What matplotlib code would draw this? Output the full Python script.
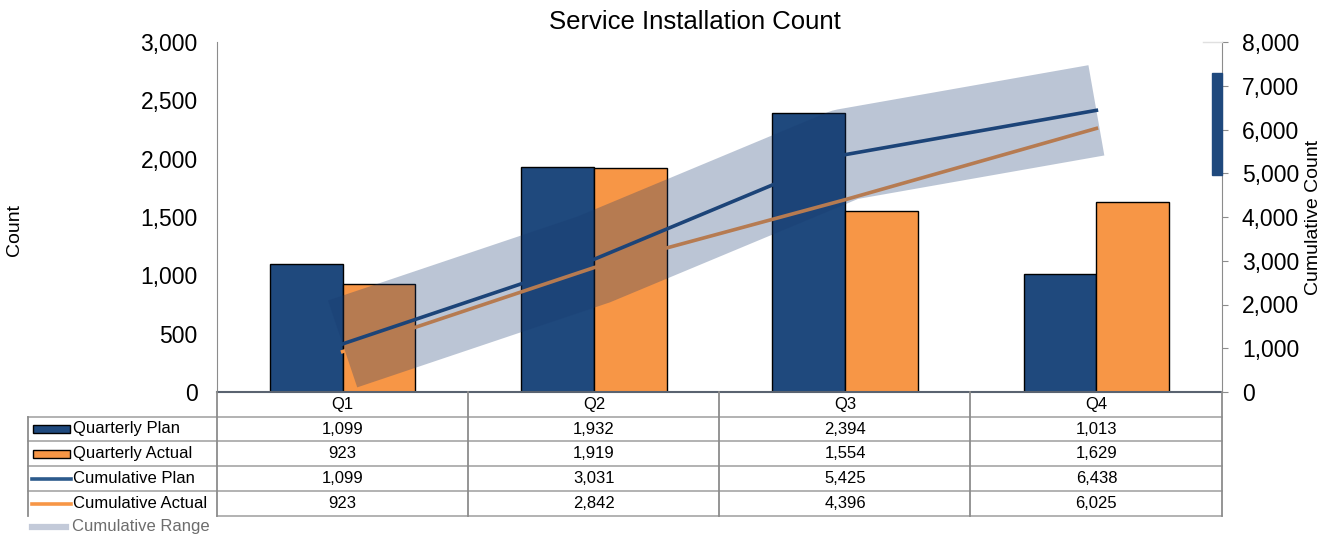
import numpy as np
import matplotlib
matplotlib.use("Agg")
import matplotlib.pyplot as plt
from matplotlib.patches import Rectangle
from matplotlib.lines import Line2D
from matplotlib.transforms import blended_transform_factory
from matplotlib.ticker import FuncFormatter

plt.rcParams['font.family'] = ['Liberation Sans', 'DejaVu Sans']

# data
quarters = ['Q1', 'Q2', 'Q3', 'Q4']
quarterly_plan = [1099, 1932, 2394, 1013]
quarterly_actual = [923, 1919, 1554, 1629]
cumulative_plan = [1099, 3031, 5425, 6438]
cumulative_actual = [923, 2842, 4396, 6025]
row_labels = ['Quarterly Plan', 'Quarterly Actual', 'Cumulative Plan', 'Cumulative Actual']

navy = '#1F497D'
orange = '#F79646'

W, H = 1333, 537
fig = plt.figure(figsize=(W / 100, H / 100), dpi=100)
ax = fig.add_axes([217 / W, 1 - 392 / H, (1222 - 217) / W, 350 / H])
ax2 = ax.twinx()

x = np.arange(len(quarters)) + 0.5
bw = 0.29
ax.bar(x - bw / 2, quarterly_plan, bw, color=navy, edgecolor='black', linewidth=1, zorder=2)
ax.bar(x + bw / 2, quarterly_actual, bw, color=orange, edgecolor='black', linewidth=1, zorder=2)
ax.set_xlim(0, 4)
ax.set_ylim(0, 3000)
ax.set_yticks(range(0, 3001, 500))

fmt = FuncFormatter(lambda v, p: f"{v:,.0f}")
ax.yaxis.set_major_formatter(fmt)
ax.tick_params(axis='y', length=0, pad=14, labelsize=16.5)
ax.tick_params(axis='x', bottom=False, labelbottom=False)
for s in ['top', 'right']:
    ax.spines[s].set_visible(False)
ax.spines['left'].set_color('#8c8c8c')
ax.spines['bottom'].set_color('#5a6370')
ax.spines['bottom'].set_linewidth(1.5)

# cumulative lines + range band
ax2.plot(x, cumulative_actual, color=orange, lw=2.6, zorder=2)
ax2.plot(x, cumulative_plan, color=navy, lw=2.6, zorder=2)
ax2.plot(x, cumulative_plan, color='#17396f', alpha=0.29, lw=66,
         solid_capstyle='butt', solid_joinstyle='round', zorder=3)
ax2.set_ylim(0, 8000)
ax2.set_yticks(range(0, 8001, 1000))
ax2.yaxis.set_major_formatter(fmt)
ax2.tick_params(axis='y', length=4.3, color='#8c8c8c', pad=10, labelsize=16.5)
for s in ['top', 'left', 'bottom']:
    ax2.spines[s].set_visible(False)
ax2.spines['right'].set_color('#8c8c8c')

# odd selection marker on right axis
tr = blended_transform_factory(ax2.transAxes, ax2.transData)
ax2.add_patch(Rectangle((1 - 10 / 1005, 4960), 10 / 1005, 2330, transform=tr,
                        color=navy, clip_on=False, zorder=5))

fig.add_artist(Line2D([1203 / W, 1222 / W], [1 - 42 / H] * 2, color='#e0e0e0', lw=1))

# labels
fig.text(694.5 / W, 1 - 22 / H, 'Service Installation Count', ha='center', va='center', fontsize=18.5)
fig.text(15 / W, 1 - 230 / H, 'Count', rotation=90, ha='center', va='center', fontsize=14)
fig.text(1314 / W, 1 - 217 / H, 'Cumulative Count', rotation=90, ha='center', va='center', fontsize=14)


# data table under the axes
def fy(py):
    return 1 - py / H


def hline(py, px0, px1, color):
    fig.add_artist(Line2D([px0 / W, px1 / W], [fy(py)] * 2, color=color, lw=1.2))


def vline(px, py0, py1, color):
    fig.add_artist(Line2D([px / W] * 2, [fy(py0), fy(py1)], color=color, lw=1.3))


row_edges = [392, 417, 441, 466, 491, 516]
col_edges = [217, 468, 719, 970, 1222]
for py in row_edges[1:-1]:
    hline(py, 28, 1222, '#a6a6a6')
hline(row_edges[-1], 217, 1222, '#a6a6a6')
for px in col_edges:
    vline(px, 392, 516, '#8c8c8c')
vline(28, 417, 516, '#8c8c8c')

tx = blended_transform_factory(ax.transData, fig.transFigure)
centers = [(row_edges[i] + row_edges[i + 1]) / 2 for i in range(5)]
for xi, q in zip(x, quarters):
    fig.text(xi, fy(centers[0]), q, transform=tx, ha='center', va='center', fontsize=12)
rows = [quarterly_plan, quarterly_actual, cumulative_plan, cumulative_actual]
for r, vals in enumerate(rows):
    for xi, v in zip(x, vals):
        fig.text(xi, fy(centers[r + 1]), f"{v:,}", transform=tx, ha='center', va='center', fontsize=12)
    fig.text(73 / W, fy(centers[r + 1]), row_labels[r], ha='left', va='center', fontsize=12)

# legend keys in label column
for r, c in enumerate([navy, orange]):
    cy = centers[r + 1]
    fig.add_artist(Rectangle((33 / W, fy(cy + 4)), 37 / W, 8 / H, transform=fig.transFigure,
                             facecolor=c, edgecolor='black', lw=1))
for r, c in zip([2, 3], ['#2c5a8c', orange]):
    cy = centers[r + 1]
    fig.add_artist(Line2D([32 / W, 71 / W], [fy(cy)] * 2, color=c, lw=2.6))

fig.add_artist(Line2D([32 / W, 66 / W], [fy(527)] * 2, color='#c3cad9', lw=4.5))
fig.text(72 / W, fy(527), 'Cumulative Range', ha='left', va='center', fontsize=12, color='#6d6d6d')

fig.savefig('out.png', dpi=100)
